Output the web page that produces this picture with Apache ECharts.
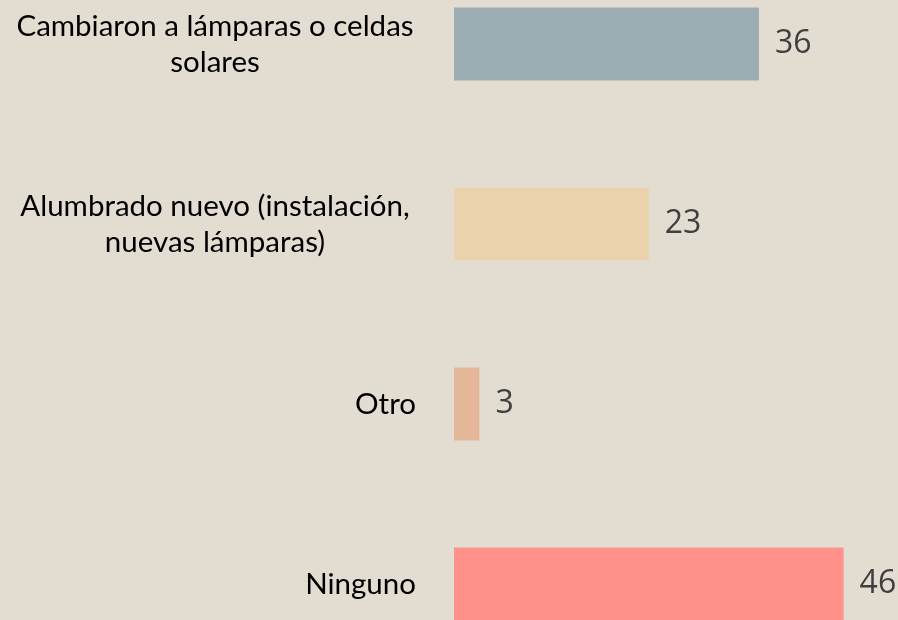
<!DOCTYPE html>
<html>
<head>
<meta charset="utf-8">
<script src="https://cdn.jsdelivr.net/npm/echarts@6/dist/echarts.min.js"></script>
<style>html,body{margin:0;padding:0;background:#e3ddd1;overflow:hidden;width:898px;height:620px;}#c{width:898px;height:720px;position:absolute;left:0;top:-46px;}</style>
</head>
<body>
<div id="c"></div>
<script>
const categories = ["Cambiaron a lámparas o celdas\nsolares", "Alumbrado nuevo (instalación,\nnuevas lámparas)", "Otro", "Ninguno"];
const values = [36, 23, 3, 46];
const colors = ["#9cadb4", "#ebd3ad", "#e5b799", "#fe928a"];

const chart = echarts.init(document.getElementById('c'));
chart.setOption({
  backgroundColor: '#e3ddd1',
  animation: false,
  grid: { left: 454, top: 0, height: 720, width: 423.5 },
  xAxis: { type: 'value', min: 0, max: 50, show: false },
  yAxis: {
    type: 'category', inverse: true, data: categories,
    axisLine: { show: false }, axisTick: { show: false },
    axisLabel: {
      margin: 38, color: '#000', fontFamily: 'Lato', fontSize: 29.5, lineHeight: 36,
      formatter: function (v) {
        if (v.indexOf('\n') < 0) return v;
        return v.split('\n').map(s => '{a|' + s + '}').join('\n');
      },
      rich: { a: { width: 402, align: 'center', fontFamily: 'Lato', fontSize: 29.5, lineHeight: 36, color: '#000' } }
    }
  },
  series: [{
    type: 'bar', barWidth: 73,
    data: values.map((v, i) => ({ value: v, itemStyle: { color: colors[i] } })),
    label: { show: true, position: 'right', distance: 16, color: '#404040', fontFamily: 'Open Sans', fontSize: 32 }
  }]
});
</script>
</body>
</html>
